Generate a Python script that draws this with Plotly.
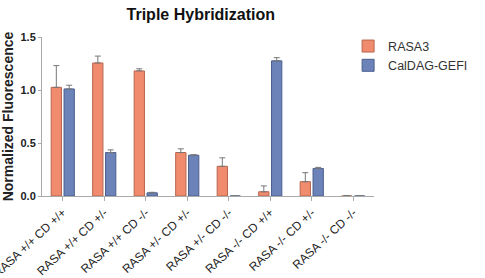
import plotly.graph_objects as go

categories = ["RASA +/+ CD +/+", "RASA +/+ CD +/-", "RASA +/+ CD -/-", "RASA +/- CD +/-",
              "RASA +/- CD -/-", "RASA -/- CD +/+", "RASA -/- CD +/-", "RASA -/- CD -/-"]
rasa3 = [1.025, 1.255, 1.18, 0.41, 0.28, 0.04, 0.135, 0.0]
rasa3_err = [0.205, 0.065, 0.02, 0.035, 0.08, 0.055, 0.085, 0.005]
caldag = [1.01, 0.41, 0.03, 0.385, 0.0, 1.275, 0.26, 0.0]
caldag_err = [0.035, 0.025, 0.005, 0.005, 0.0, 0.03, 0.01, 0.0]

font = "Liberation Sans, Arial, sans-serif"

fig = go.Figure()
fig.add_trace(go.Bar(
    x=categories, y=rasa3, name="RASA3",
    marker=dict(color="#F08B6D", line=dict(color="#B8654E", width=1)),
    error_y=dict(type="data", array=rasa3_err, arrayminus=[0]*8, symmetric=False,
                 color="#777777", thickness=1, width=3),
))
fig.add_trace(go.Bar(
    x=categories, y=caldag, name="CalDAG-GEFI",
    marker=dict(color="#6B83B8", line=dict(color="#4A5E8C", width=1)),
    error_y=dict(type="data", array=caldag_err, arrayminus=[0]*8, symmetric=False,
                 color="#777777", thickness=1, width=3),
))

fig.update_layout(
    width=485, height=278,
    margin=dict(l=42, r=78, t=37, b=82),
    paper_bgcolor="white", plot_bgcolor="white",
    barmode="group", bargap=0.38, bargroupgap=0.2,
    title=dict(text="<b>Triple Hybridization</b>", x=0.414, xref="container", xanchor="center",
               y=0.95, yref="container", yanchor="middle",
               font=dict(family=font, size=16, color="#111111")),
    font=dict(family=font, color="#222222"),
    showlegend=True,
    legend=dict(x=0.922, y=1.035, xanchor="left", yanchor="top",
                font=dict(family=font, size=12.5, color="#333333"),
                bgcolor="rgba(0,0,0,0)", itemwidth=30, tracegroupgap=0),
    xaxis=dict(showline=True, linecolor="#AAAAAA", linewidth=1, ticks="outside",
               ticklen=4, tickcolor="#AAAAAA", tickangle=-43, automargin=False,
               tickfont=dict(family=font, size=12, color="#222222"), showgrid=False),
    yaxis=dict(range=[0, 1.5], tickvals=[0, 0.5, 1.0, 1.5], ticktext=["<b>0.0</b>", "<b>0.5</b>", "<b>1.0</b>", "<b>1.5</b>"],
               showline=True, linecolor="#AAAAAA", linewidth=1, ticks="outside", ticklen=3,
               tickcolor="#AAAAAA", showgrid=False, zeroline=False, automargin=False,
               tickfont=dict(family=font, size=11, color="#222222"),
               title=dict(text="<b>Normalized Fluorescence</b>", standoff=4,
                          font=dict(family=font, size=14, color="#222222"))),
)

fig.write_html("out.html")
